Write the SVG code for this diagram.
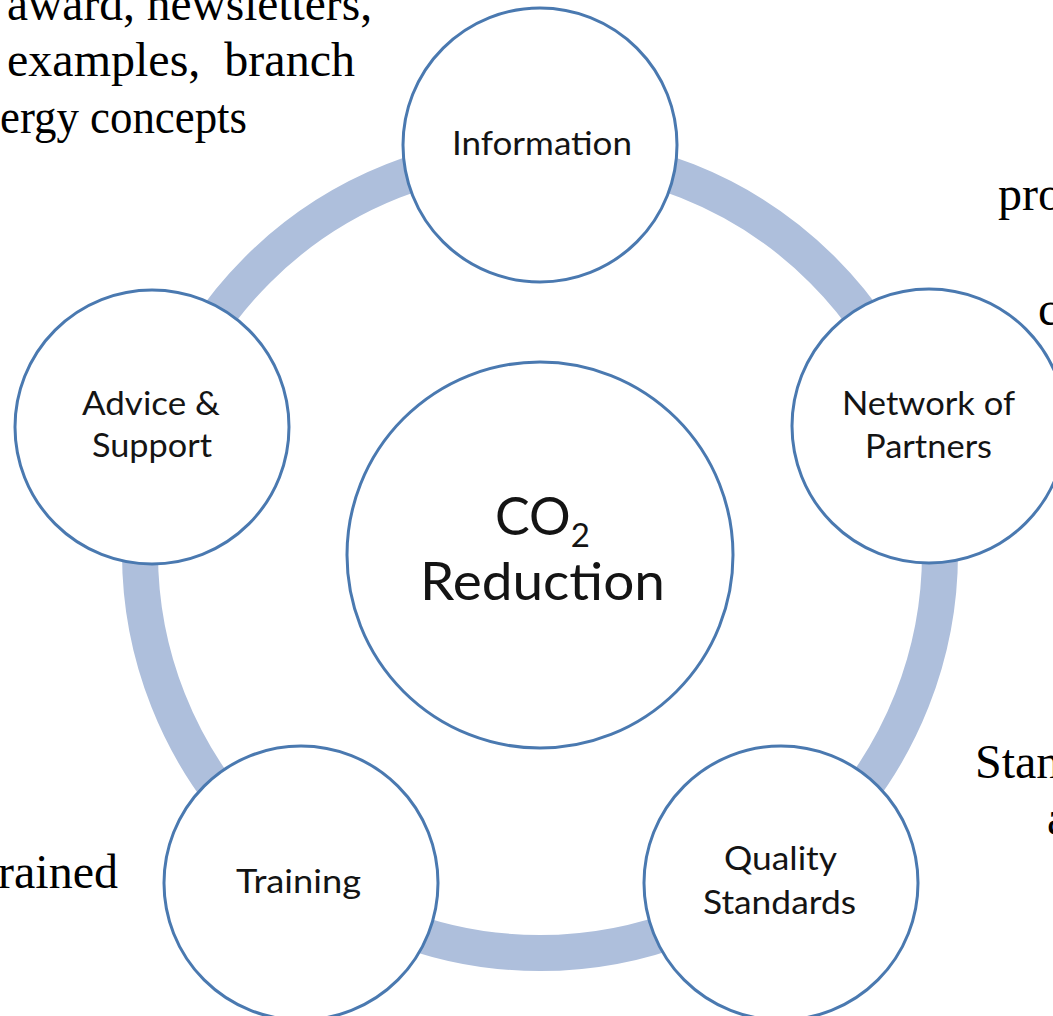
<svg xmlns="http://www.w3.org/2000/svg" width="1053" height="1016" viewBox="0 0 1053 1016">
  <style>
    .node { fill: #ffffff; stroke: #4a79b0; stroke-width: 3; }
    .lbl { font-family: Lato, "Open Sans", "Liberation Sans", sans-serif; font-size: 32px; fill: #141414; }
    .big { font-family: Lato, "Open Sans", "Liberation Sans", sans-serif; font-size: 52px; fill: #141414; }
    .note { font-family: "Liberation Serif", "Times New Roman", serif; font-size: 48px; fill: #000000; }
    .ring { fill: none; stroke: #aebfdc; stroke-width: 36; }
  </style>
  <rect x="0" y="0" width="1053" height="1016" fill="#ffffff"/>

  <g id="notes">
    <text class="note" x="7" y="20" textLength="365" lengthAdjust="spacingAndGlyphs">award, newsletters,</text>
    <text class="note" x="7" y="76" xml:space="preserve" textLength="348" lengthAdjust="spacingAndGlyphs">examples,  branch</text>
    <text class="note" x="0" y="133" textLength="247" lengthAdjust="spacingAndGlyphs">ergy concepts</text>
    <text class="note" x="998" y="210">pro</text>
    <text class="note" x="1038" y="325">c</text>
    <text class="note" x="975" y="778">Stan</text>
    <text class="note" x="1047" y="834">a</text>
    <text class="note" x="-2" y="888">rained</text>
  </g>

  <g id="connectors">
    <circle class="ring" cx="540" cy="553" r="400"/>
  </g>

  <g id="center">
    <circle class="node" cx="540" cy="555" r="193"/>
    <text class="big" x="495" y="535">CO<tspan dy="12" style="font-size:33px">2</tspan></text>
    <text class="big" x="420" y="600" textLength="245" lengthAdjust="spacingAndGlyphs">Reduction</text>
  </g>

  <g id="information">
    <circle class="node" cx="540" cy="145" r="137"/>
    <text class="lbl" x="452" y="155" textLength="180" lengthAdjust="spacingAndGlyphs">Information</text>
  </g>

  <g id="network">
    <circle class="node" cx="929" cy="426" r="137"/>
    <text class="lbl" x="842" y="415" textLength="173" lengthAdjust="spacingAndGlyphs">Network of</text>
    <text class="lbl" x="865" y="458" textLength="127" lengthAdjust="spacingAndGlyphs">Partners</text>
  </g>

  <g id="advice">
    <circle class="node" cx="152" cy="427" r="137"/>
    <text class="lbl" x="82" y="415" textLength="138" lengthAdjust="spacingAndGlyphs">Advice &amp;</text>
    <text class="lbl" x="92" y="457" textLength="120" lengthAdjust="spacingAndGlyphs">Support</text>
  </g>

  <g id="training">
    <circle class="node" cx="301" cy="883" r="137"/>
    <text class="lbl" x="236" y="893" textLength="125" lengthAdjust="spacingAndGlyphs">Training</text>
  </g>

  <g id="quality">
    <circle class="node" cx="781" cy="883" r="137"/>
    <text class="lbl" x="724" y="870" textLength="113" lengthAdjust="spacingAndGlyphs">Quality</text>
    <text class="lbl" x="703" y="914" textLength="153" lengthAdjust="spacingAndGlyphs">Standards</text>
  </g>
</svg>
